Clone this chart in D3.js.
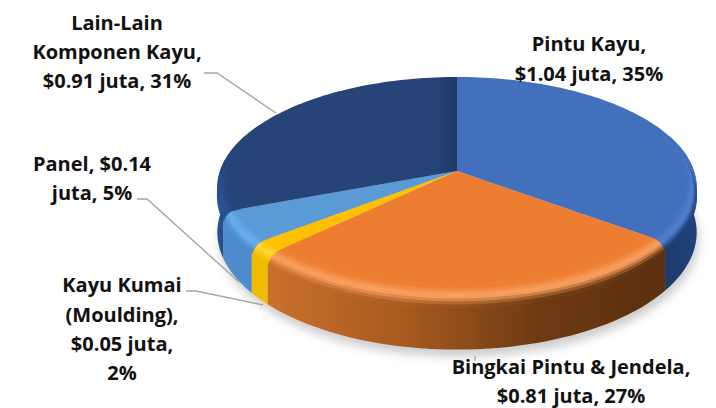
<!DOCTYPE html>
<html>
<head>
<meta charset="utf-8">
<script src="https://cdn.jsdelivr.net/npm/d3@7"></script>
<style>
  html, body { margin: 0; padding: 0; background: #fff; }
  text { font-family: "Open Sans", Lato, sans-serif; font-weight: 700; font-size: 20px; fill: #111; text-anchor: middle; }
</style>
</head>
<body>
<div id="chart"></div>
<script>
var width = 716,
    height = 408;

// values in juta USD, clockwise from 12 o'clock
var categories = ["Pintu Kayu", "Bingkai Pintu & Jendela", "Kayu Kumai (Moulding)", "Panel", "Lain-Lain Komponen Kayu"];
var values = [1.04, 0.81, 0.05, 0.14, 0.91];
var percents = [35, 27, 2, 5, 31];

var faceColors = ["#4270bd", "#ed7d31", "#ffc000", "#5b9bd5", "#264478"];
var rimColors = ["#4f80cf", "#f9a060", "#ffd633", "#66aef0", "#2b5090"];
var wallColors = [
  ["#1a3563", "#21427c"],
  ["#c9702b", "#a85b20", "#6e3a13", "#5c2f0e"],
  ["#f2bd00", "#f2bd00"],
  ["#4e8ccb", "#4e8ccb"],
  ["#27508f", "#22427a"]
];
var wallRanges = [
  [650, 697],
  [268, 400, 540, 665],
  [250, 270],
  [222, 255],
  [217, 300]
];

// label text split the way it wraps in the chart
var labelLines = [
  ["Pintu Kayu,", "$1.04 juta, 35%"],
  ["Bingkai Pintu & Jendela,", "$0.81 juta, 27%"],
  ["Kayu Kumai", "(Moulding),", "$0.05 juta,", "2%"],
  ["Panel, $0.14", "juta, 5%"],
  ["Lain-Lain", "Komponen Kayu,", "$0.91 juta, 31%"]
];
var labelX = [589, 571, 122, 92, 117];
var labelY = [[51, 81], [374, 403], [292, 322, 351, 380], [171, 200], [30, 59, 88]];

var leaders = [
  null,
  [[475, 356], [475, 361]],
  [[186, 291], [196, 291], [263, 305]],
  [[137, 199], [147, 199], [239, 282]],
  [[204, 73], [217, 73], [276, 113]]
];

// projection of the tilted disc
var cx = 457, cy = 171, ax = 237, ay = 108, persp = 0.149, depth = 44;

function project(theta, r, h) {
  var z = r * Math.cos(theta),
      w = 1 + persp * z;
  return [cx + ax * r * Math.sin(theta) / w, cy - ay * z / w + h * depth / w];
}

var svg = d3.select("#chart").append("svg")
    .attr("width", width)
    .attr("height", height);

var defs = svg.append("defs");
defs.append("filter").attr("id", "blur")
    .attr("x", "-10%").attr("y", "-10%").attr("width", "120%").attr("height", "130%")
  .append("feGaussianBlur").attr("stdDeviation", 5);

var navyFade = defs.append("linearGradient").attr("id", "navyFade")
    .attr("gradientUnits", "userSpaceOnUse")
    .attr("x1", 436).attr("x2", 457).attr("y1", 0).attr("y2", 0);
navyFade.append("stop").attr("offset", 0).attr("stop-color", "#264478");
navyFade.append("stop").attr("offset", 1).attr("stop-color", "#1f3864");

// one horizontal gradient per wall
wallColors.forEach(function(colors, i) {
  var range = wallRanges[i],
      x0 = range[0],
      x1 = range[range.length - 1];
  var grad = defs.append("linearGradient").attr("id", "wall" + i)
      .attr("gradientUnits", "userSpaceOnUse")
      .attr("x1", x0).attr("x2", x1).attr("y1", 0).attr("y2", 0);
  colors.forEach(function(c, k) {
    grad.append("stop").attr("offset", (range[k] - x0) / (x1 - x0)).attr("stop-color", c);
  });
});

var pie = d3.pie().sort(null).value(function(d) { return d; });
var arcs = pie(values);

var line = d3.line();
var step = Math.PI / 120;

function arcAngles(a0, a1) {
  var n = Math.max(1, Math.ceil((a1 - a0) / step));
  return d3.range(n + 1).map(function(i) { return a0 + (a1 - a0) * i / n; });
}

function wallColor(i) {
  return d3.scaleLinear().domain(wallRanges[i]).range(wallColors[i])
      .interpolate(d3.interpolateRgb).clamp(true);
}

function smooth(a, b, v) {
  var t = Math.max(0, Math.min(1, (v - a) / (b - a)));
  return t * t * (3 - 2 * t);
}

// soft shadow under the pie
svg.append("path")
    .attr("d", line(arcAngles(0, 2 * Math.PI).map(function(t) {
      var p = project(t, 1, 1);
      return [p[0] + 2, p[1] + 7];
    })) + "Z")
    .attr("fill", "#888")
    .attr("fill-opacity", 0.42)
    .attr("filter", "url(#blur)");

var wallG = svg.append("g"),
    faceG = svg.append("g"),
    bevelG = svg.append("g");

var bevelTop = 0.2;

function quad(g, a, b, r0, h0, r1, h1, color) {
  g.append("path")
      .attr("d", line([project(a, r0, h0), project(b, r0, h0), project(b, r1, h1), project(a, r1, h1)]) + "Z")
      .attr("fill", color)
      .attr("stroke", color)
      .attr("stroke-width", 0.6);
}

arcs.forEach(function(d, i) {
  var angles = arcAngles(d.startAngle, d.endAngle),
      wc = wallColor(i),
      rimMix = d3.interpolateRgb(faceColors[i], rimColors[i]);

  // flat top face
  faceG.append("path")
      .attr("d", line([[cx, cy]].concat(angles.map(function(t) { return project(t, 1, 0); }))) + "Z")
      .attr("fill", i === 4 ? "url(#navyFade)" : faceColors[i]);

  // side wall, only the part that can show below the face
  var front = angles.filter(function(t) { return Math.cos(t) < 0.35; });
  if (front.length > 1) {
    var upper = front.map(function(t) { return project(t, 1, 0); }),
        lower = front.slice().reverse().map(function(t) { return project(t, 1, 1); });
    wallG.append("path")
        .attr("d", line(upper.concat(lower)) + "Z")
        .attr("fill", "url(#wall" + i + ")");
  }

  // rounded edge between top face and wall
  angles.slice(1).forEach(function(b, k) {
    var a = angles[k],
        mid = (a + b) / 2,
        z = Math.cos(mid),
        strength = 1 - smooth(-0.3, 0.6, z);
    if (strength <= 0) return;

    var wallC = wc(project(mid, 1, 0.5)[0]);
    var rIn = 1 - 0.05 - 0.05 * Math.max(0, -z),
        nSteps = 8;
    d3.range(nSteps).forEach(function(s) {
      var t0 = s / nSteps,
          t1 = (s + 1) / nSteps,
          tm = (t0 + t1) / 2,
          c;
      if (tm < 0.5) {
        c = rimMix(smooth(0, 0.5, tm));
      } else {
        c = d3.interpolateRgb(rimColors[i], wallC)(smooth(0.5, 1, tm));
      }
      c = d3.interpolateRgb(faceColors[i], c)(strength);
      quad(bevelG, a, b,
        rIn + (1 - rIn) * Math.sqrt(t0), bevelTop * t0 * t0,
        rIn + (1 - rIn) * Math.sqrt(t1), bevelTop * t1 * t1, c);
    });
  });
});

// leader lines
svg.append("g").selectAll("path")
    .data(leaders.filter(function(d) { return d; }))
    .enter().append("path")
    .attr("d", line)
    .attr("fill", "none")
    .attr("stroke", "#a6a6a6")
    .attr("stroke-width", 1.4);

// labels
labelLines.forEach(function(lines, i) {
  svg.append("text")
    .attr("data-category", categories[i])
    .selectAll("tspan")
    .data(lines)
    .enter().append("tspan")
      .attr("x", labelX[i])
      .attr("y", function(d, k) { return labelY[i][k]; })
      .text(function(d) { return d; });
});
</script>
</body>
</html>
